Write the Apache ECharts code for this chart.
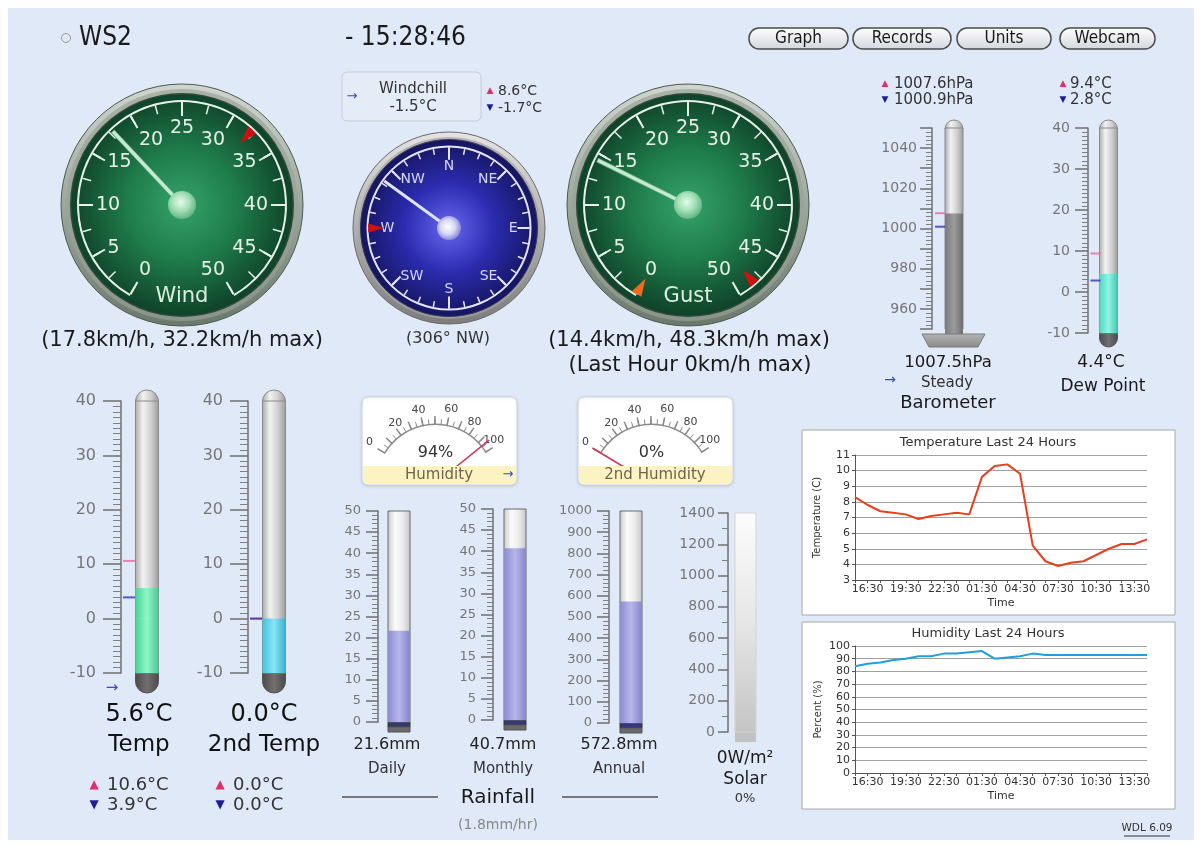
<!DOCTYPE html>
<html><head><meta charset="utf-8">
<script src="https://cdn.jsdelivr.net/npm/echarts@6/dist/echarts.min.js"></script>
<style>html,body{margin:0;padding:0;background:#fff;}#c{width:1202px;height:846px;}</style>
</head><body><div id="c"></div>
<script>
// ---------------- DATA ----------------
const stationName = ['WS2'];
const clockText = ['- 15:28:46'];
const buttonLabels = ['Graph', 'Records', 'Units', 'Webcam'];

const speedNames = ['Wind', 'Gust'];
const speedValues = [17.8, 14.4];
const speedMaxValues = [32.2, 48.3];
const gustLastHourMax = [0];
const windDirection = [306];
const windDirMarker = [270];
const compassLabels = ['N', 'NE', 'E', 'SE', 'S', 'SW', 'W', 'NW'];
const windchill = [-1.5, 8.6, -1.7];            // current, high, low

const humidityNames = ['Humidity', '2nd Humidity'];
const humidityValues = [94, 0];

const thermoNames = ['Temp', '2nd Temp', 'Dew Point'];
const thermoValues = [5.6, 0.0, 4.4];
const thermoHigh = [10.6, 0.0, 9.4];
const thermoLow = [3.9, 0.0, 2.8];

const baroValue = [1007.5];
const baroHigh = [1007.6];
const baroLow = [1000.9];

const rainNames = ['Daily', 'Monthly', 'Annual'];
const rainValues = [21.6, 40.7, 572.8];
const rainScaleMax = [50, 50, 1000];
const rainRate = [1.8];

const solarValue = [0];
const solarScaleMax = [1400];

const hourLabels = ['15:30','16:30','17:30','18:30','19:30','20:30','21:30','22:30','23:30','00:30','01:30','02:30',
                    '03:30','04:30','05:30','06:30','07:30','08:30','09:30','10:30','11:30','12:30','13:30','14:30'];
const temp24 = [8.3,7.8,7.4,7.3,7.2,6.9,7.1,7.2,7.3,7.2,9.6,10.3,10.4,9.8,5.2,4.2,3.9,4.1,4.2,4.6,5.0,5.3,5.3,5.6];
const hum24 = [84,86,87,89,90,92,92,94,94,95,96,90,91,92,94,93,93,93,93,93,93,93,93,93];

// ---------------- STYLE ----------------
const FF = "'DejaVu Sans', Verdana, sans-serif";
const FC = "'DejaVu Sans Condensed', 'Liberation Sans Narrow', 'DejaVu Sans', sans-serif";
const BG = '#dfe9f7';
const PINK = '#e0306a', NAVY = '#1c1c96', ARROW = '#3a46c8';

function lin(stops, vertical) {
  return {type: 'linear', x: 0, y: 0, x2: vertical ? 0 : 1, y2: vertical ? 1 : 0,
    colorStops: stops.map((c, i) => ({offset: i / (stops.length - 1), color: c}))};
}
function rad(stops, x, y, r) {
  return {type: 'radial', x: x, y: y, r: r,
    colorStops: stops.map((c, i) => ({offset: i / (stops.length - 1), color: c}))};
}

const graphics = [];
function T(x, y, text, size, color, align, extra) {
  graphics.push(Object.assign({type: 'text', x: x, y: y, z: 20,
    style: {text: String(text), fontSize: size, fontFamily: FF, fill: color || '#222',
      align: align || 'center', verticalAlign: 'middle'}}, extra || {}));
}
function fmt1(v) { return v.toFixed(1); }

// page panel
graphics.push({type: 'rect', z: -10, shape: {x: 8, y: 8, width: 1186, height: 832}, style: {fill: BG}});

// ---------- header ----------
graphics.push({type: 'circle', z: 5, shape: {cx: 66, cy: 38, r: 4.5}, style: {fill: 'none', stroke: '#9a9a9a', lineWidth: 1}});
graphics.push({type: 'text', x: 79, y: 38, z: 5, style: {text: stationName[0], fontSize: 26, fontFamily: FC, fill: '#1a1a1a', align: 'left', verticalAlign: 'middle'}});
graphics.push({type: 'text', x: 345, y: 38, z: 5, style: {text: clockText[0], fontSize: 26, fontFamily: FC, fill: '#1a1a1a', align: 'left', verticalAlign: 'middle'}});
const btnX = [749, 853, 957, 1060], btnW = [99, 98, 94, 95];
buttonLabels.forEach((b, i) => {
  graphics.push({type: 'rect', z: 5, shape: {x: btnX[i], y: 28, width: btnW[i], height: 21, r: 10},
    style: {fill: lin(['#ffffff', '#d2d7de'], true), stroke: '#4a4a4a', lineWidth: 1.5}});
  graphics.push({type: 'text', z: 6, x: btnX[i] + btnW[i] / 2, y: 38.5,
    style: {text: b, fontSize: 17, fontFamily: FC, fill: '#1a1a1a', align: 'center', verticalAlign: 'middle'}});
});

// ---------- gauge bezels ----------
const speedCenters = [[182, 205], [688, 205]];
speedCenters.forEach(c => {
  graphics.push({type: 'circle', z: 0, shape: {cx: c[0], cy: c[1], r: 121}, style: {fill: lin(['#d0d6cf', '#6b786c'], true), stroke: '#4c5a4e', lineWidth: 1}});
  graphics.push({type: 'circle', z: 0, shape: {cx: c[0], cy: c[1], r: 116}, style: {fill: lin(['#a9b2a8', '#8a958a'], true)}});
  graphics.push({type: 'circle', z: 0, shape: {cx: c[0], cy: c[1], r: 112}, style: {fill: '#2f4a36'}});
  graphics.push({type: 'circle', z: 0, shape: {cx: c[0], cy: c[1], r: 110.5}, style: {fill: rad(['#34a36b', '#1f7c4b', '#0f4329'], 0.5, 0.5, 0.5)}});
});
const compassCenter = [449, 228];
graphics.push({type: 'circle', z: 0, shape: {cx: 449, cy: 228, r: 96}, style: {fill: lin(['#e4e4e4', '#7c7c7c'], true), stroke: '#6a6a6a', lineWidth: 1}});
graphics.push({type: 'circle', z: 0, shape: {cx: 449, cy: 228, r: 91}, style: {fill: lin(['#b4b4b4', '#9a9a9a'], true)}});
graphics.push({type: 'circle', z: 0, shape: {cx: 449, cy: 228, r: 88.5}, style: {fill: rad(['#6868f0', '#2c2cb0', '#15155e'], 0.5, 0.5, 0.5), stroke: '#3a3a5a', lineWidth: 1}});

// humidity boxes
const humCenters = [[435.5, 483.5], [651.5, 483.5]];
const humBoxX = [362, 578];
humBoxX.forEach((x, i) => {
  graphics.push({type: 'rect', z: 0, shape: {x: x, y: 397, width: 155, height: 88, r: 6}, style: {fill: '#ffffff', stroke: '#cfd4da', lineWidth: 1, shadowBlur: 3, shadowColor: 'rgba(0,0,0,0.12)', shadowOffsetY: 1}});
  graphics.push({type: 'rect', z: 10, shape: {x: x + 1, y: 466, width: 153, height: 18, r: [0, 0, 5, 5]}, style: {fill: '#fbf4c2'}});
  T(x + 77, 475, humidityNames[i], 15, '#6e6548');
  T(humCenters[i][0], 453, humidityValues[i] + '%', 16, '#333');
});
T(508, 475, '\u2192', 13, ARROW);

// ---------- series containers ----------
const grids = [], xAxes = [], yAxes = [], series = [];

// speed gauges
function speedGauge(c, val) {
  return {type: 'gauge', center: c, radius: 105, startAngle: 240, endAngle: -60, min: 0, max: 50, splitNumber: 10, z: 3,
    axisLine: {show: true, lineStyle: {width: 2, color: [[1, '#e6f0e6']]}},
    splitLine: {show: true, length: 14, distance: 0, lineStyle: {color: '#e6f0e6', width: 2}},
    axisTick: {show: true, splitNumber: 2, length: 9, distance: 0, lineStyle: {color: '#e6f0e6', width: 1.5}},
    axisLabel: {show: true, distance: 5, color: '#e6f0e6', fontSize: 19, fontFamily: FF},
    pointer: {show: true, icon: 'rect', length: 101, width: 4, itemStyle: {color: '#c2ecd0', borderColor: '#6f9f80', borderWidth: 0.6}},
    anchor: {show: true, showAbove: true, size: 28, itemStyle: {color: rad(['#e4fbea', '#a6e2ba', '#62b483'], 0.45, 0.4, 0.6)}},
    progress: {show: false}, title: {show: false}, detail: {show: false},
    data: [{value: val}]};
}
function markerGauge(c, r, start, end, min, max, val, color, offPct, lenPct, w) {
  return {type: 'gauge', center: c, radius: r, startAngle: start, endAngle: end, min: min, max: max, z: 4,
    axisLine: {show: false}, splitLine: {show: false}, axisTick: {show: false}, axisLabel: {show: false},
    pointer: {show: true, icon: 'path://M0,0 L10,0 L5,12 Z', offsetCenter: [0, '-' + offPct + '%'], length: lenPct + '%', width: w, keepAspect: false, itemStyle: {color: color}},
    anchor: {show: false}, progress: {show: false}, title: {show: false}, detail: {show: false},
    data: [{value: val}]};
}
speedCenters.forEach((c, i) => {
  series.push(speedGauge(c, speedValues[i]));
  series.push(markerGauge(c, 105, 240, -60, 0, 50, speedMaxValues[i], '#d01010', 81, 17, 11));
  T(c[0], 297, speedNames[i], 21, '#dcefdc');
});
series.push(markerGauge(speedCenters[1], 105, 240, -60, 0, 50, gustLastHourMax[0], '#f06a1c', 81, 17, 11));

// compass
series.push({type: 'gauge', center: compassCenter, radius: 82.5, startAngle: 90, endAngle: -270, min: 0, max: 360, splitNumber: 8, z: 3,
  axisLine: {show: true, lineStyle: {width: 2, color: [[1, '#e4e4fa']]}},
  splitLine: {show: true, length: 12, distance: 0, lineStyle: {color: '#e4e4fa', width: 2}},
  axisTick: {show: true, splitNumber: 4, length: 6, distance: 0, lineStyle: {color: '#e4e4fa', width: 1.5}},
  axisLabel: {show: true, distance: 2, color: '#d6d6f6', fontSize: 14, fontFamily: FF,
    formatter: v => v >= 360 ? '' : compassLabels[Math.round(v / 45) % 8]},
  pointer: {show: true, icon: 'rect', length: 80, width: 3, itemStyle: {color: '#dde4f6'}},
  anchor: {show: true, showAbove: true, size: 24, itemStyle: {color: rad(['#ffffff', '#d8d8f8', '#7a7ad8'], 0.45, 0.45, 0.6)}},
  progress: {show: false}, title: {show: false}, detail: {show: false},
  data: [{value: windDirection[0]}]});
series.push(markerGauge(compassCenter, 82.5, 90, -270, 0, 360, windDirMarker[0], '#d01010', 78, 20, 9));

// humidity dials
humCenters.forEach((c, i) => {
  series.push({type: 'gauge', center: c, radius: 60, startAngle: 149, endAngle: 32, min: 0, max: 100, splitNumber: 10, z: 3,
    axisLine: {show: true, lineStyle: {width: 1.5, color: [[1, '#8c8c8c']]}},
    splitLine: {show: true, length: 9, distance: -9, lineStyle: {color: '#8c8c8c', width: 1.5}},
    axisTick: {show: true, splitNumber: 2, length: 5, distance: -6, lineStyle: {color: '#8c8c8c', width: 1}},
    axisLabel: {show: true, distance: -21, color: '#444', fontSize: 11, fontFamily: FF, formatter: v => (v % 20 === 0 ? String(v) : '')},
    pointer: {show: true, icon: 'rect', length: 69, width: 1.6, itemStyle: {color: '#c83a5a'}},
    anchor: {show: false}, progress: {show: false}, title: {show: false}, detail: {show: false},
    data: [{value: humidityValues[i]}]});
});

// ---------- tube gauges ----------
const TUBE = lin(['#a8a8a8', '#f2f2f2', '#d0d0d0', '#9a9a9a']);
const RTUBE = lin(['#c8c8c8', '#fbfbfb', '#ececec', '#c4c4c4']);
function tube(o) {
  const gi = grids.length;
  grids.push({left: o.left, top: o.top, width: o.width, height: o.height, containLabel: false, outerBoundsMode: 'none'});
  xAxes.push({gridIndex: gi, type: 'category', data: [o.name], show: false});
  yAxes.push({gridIndex: gi, type: 'value', min: o.min, max: o.max, interval: o.interval, position: 'left',
    axisLine: {show: true, lineStyle: {color: '#707070', width: 1.5}},
    axisTick: {show: true, length: o.major, lineStyle: {color: '#707070', width: 1.5}},
    minorTick: {show: true, splitNumber: o.minor, length: o.minorLen, lineStyle: {color: '#808080', width: 1}},
    splitLine: {show: false}, minorSplitLine: {show: false},
    axisLabel: {color: '#767676', fontSize: o.fontSize, fontFamily: FF, margin: o.margin, formatter: o.fmt || (v => String(v))}});
  series.push({type: 'bar', xAxisIndex: gi, yAxisIndex: gi, data: [o.value], barWidth: o.tubeW, barGap: '-100%', z: 3,
    showBackground: true, backgroundStyle: {color: o.bg, borderColor: o.border || '#8a8a8a', borderWidth: 1},
    itemStyle: {color: o.fill}, silent: true});
  if (o.base !== undefined) {
    series.push({type: 'bar', xAxisIndex: gi, yAxisIndex: gi, data: [o.base], barWidth: o.tubeW, barGap: '-100%', z: 4,
      itemStyle: {color: o.fill}, silent: true});
  }
  if (o.hi !== undefined) {
    series.push({type: 'scatter', xAxisIndex: gi, yAxisIndex: gi, symbol: 'rect', symbolSize: [o.markW, 2], symbolOffset: [o.markOff, 0],
      data: [[0, o.hi]], itemStyle: {color: '#e86a9a'}, z: 5, silent: true});
    series.push({type: 'scatter', xAxisIndex: gi, yAxisIndex: gi, symbol: 'rect', symbolSize: [o.markW, 2], symbolOffset: [o.markOff, 0],
      data: [[0, o.lo]], itemStyle: {color: '#3232b4'}, z: 6, silent: true});
  }
  const bx = o.left + o.width / 2 - o.tubeW / 2;
  return {x: bx, w: o.tubeW, top: o.top, bottom: o.top + o.height};
}
function cap(t, h, color) {
  graphics.push({type: 'rect', z: 1, shape: {x: t.x, y: t.top - h, width: t.w, height: h + 1, r: [t.w / 2, t.w / 2, 0, 0]},
    style: {fill: color || TUBE, stroke: '#8a8a8a', lineWidth: 1}});
}
function bulb(t, h) {
  graphics.push({type: 'rect', z: 1, shape: {x: t.x, y: t.bottom, width: t.w, height: h, r: [0, 0, t.w / 2, t.w / 2]},
    style: {fill: lin(['#4a4a4a', '#707070', '#4a4a4a']), stroke: '#555', lineWidth: 1}});
}

// Temperatures
const thermoFill = [lin(['#48d496', '#8ef7c8', '#4cc892']), lin(['#44c2e0', '#8ae4f6', '#3cb0d0']), lin(['#4ed8c2', '#92f4e4', '#44c8b2'])];
const thermoGeom = [
  {left: 121, top: 401, width: 52, height: 272, tubeW: 23, fontSize: 16, margin: 25, major: 18, minorLen: 8, markW: 12, markOff: -18, capH: 11, bulbH: 20},
  {left: 248, top: 401, width: 52, height: 272, tubeW: 23, fontSize: 16, margin: 25, major: 18, minorLen: 8, markW: 12, markOff: -18, capH: 11, bulbH: 20},
  {left: 1088, top: 128, width: 41, height: 205, tubeW: 18, fontSize: 14, margin: 18, major: 13, minorLen: 6, markW: 10, markOff: -13, capH: 8, bulbH: 14}
];
thermoNames.forEach((n, i) => {
  const g = thermoGeom[i];
  const t = tube(Object.assign({name: n, min: -10, max: 40, interval: 10, minor: 10, value: thermoValues[i], base: -10,
    bg: TUBE, fill: thermoFill[i], hi: thermoHigh[i], lo: thermoLow[i]}, g));
  cap(t, g.capH);
  bulb(t, g.bulbH);
});

// Barometer
const baroT = tube({name: 'Barometer', left: 932, top: 128, width: 44, height: 201, min: 950, max: 1050, interval: 10, minor: 5,
  value: baroValue[0], bg: TUBE, fill: lin(['#7a7a7a', '#9c9c9c', '#6c6c6c']), tubeW: 18, fontSize: 14, margin: 15, major: 12, minorLen: 6,
  fmt: v => (v % 20 === 0 ? String(v) : ''), hi: baroHigh[0], lo: baroLow[0], markW: 10, markOff: -14});
cap(baroT, 8);
graphics.push({type: 'rect', z: 1, shape: {x: baroT.x, y: baroT.bottom - 1, width: baroT.w, height: 6}, style: {fill: lin(['#7a7a7a', '#9c9c9c', '#6c6c6c'])}});
graphics.push({type: 'polygon', z: 2, shape: {points: [[922, 334], [985, 334], [978, 347], [929, 347]]}, style: {fill: lin(['#b4b4b4', '#8a8a8a'], true), stroke: '#7a7a7a', lineWidth: 1}});

// Rain
const rainGeom = [
  {left: 378, top: 511, width: 42, height: 211, minor: 5, interval: 5},
  {left: 493, top: 509, width: 44, height: 211, minor: 5, interval: 5},
  {left: 609, top: 511, width: 44, height: 212, minor: 5, interval: 100}
];
rainNames.forEach((n, i) => {
  const g = rainGeom[i];
  const t = tube(Object.assign({name: n, min: 0, max: rainScaleMax[i], value: rainValues[i], bg: RTUBE, border: '#6a6a6a',
    fill: lin(['#8c8cd0', '#b6b6ec', '#8686cc']), tubeW: 22, fontSize: 13, margin: 17, major: 12, minorLen: 6}, g));
  graphics.push({type: 'rect', z: 2, shape: {x: t.x, y: t.bottom, width: t.w, height: 5}, style: {fill: '#36367a', stroke: '#333', lineWidth: 1}});
  graphics.push({type: 'rect', z: 2, shape: {x: t.x, y: t.bottom + 5, width: t.w, height: 5}, style: {fill: '#6a6a6a', stroke: '#555', lineWidth: 1}});
  T(t.x + t.w / 2 - 12, 745, fmt1(rainValues[i]) + 'mm', 16, '#222');
  T(t.x + t.w / 2 - 12, 769, n, 15, '#333');
});

// Solar
const solT = tube({name: 'Solar', left: 728, top: 513, width: 35, height: 219, min: 0, max: solarScaleMax[0], interval: 200, minor: 2,
  value: solarValue[0], bg: lin(['#fcfcfc', '#e6e6e6', '#c4c4c4'], true), border: '#d4d4d4', fill: '#c4c4c4',
  tubeW: 21, fontSize: 14, margin: 13, major: 10, minorLen: 6});
graphics.push({type: 'rect', z: 1, shape: {x: solT.x, y: solT.bottom, width: solT.w, height: 10}, style: {fill: '#c2c2c2'}});

// ---------- line charts ----------
const chartBoxes = [[802, 430, 373, 185], [802, 622, 373, 187]];
chartBoxes.forEach(b => graphics.push({type: 'rect', z: 0, shape: {x: b[0], y: b[1], width: b[2], height: b[3]}, style: {fill: '#ffffff', stroke: '#a8a8a8', lineWidth: 1}}));
T(988, 443, 'Temperature Last 24 Hours', 13, '#333');
T(988, 634, 'Humidity Last 24 Hours', 13, '#333');

function lineChart(top, height, min, max, interval, data, color, yName, nameGap) {
  const gi = grids.length;
  grids.push({left: 855, top: top, width: 292, height: height, containLabel: false, outerBoundsMode: 'none'});
  xAxes.push({gridIndex: gi, type: 'category', data: hourLabels, boundaryGap: false,
    name: 'Time', nameLocation: 'middle', nameGap: 18, nameTextStyle: {fontSize: 11, color: '#333', fontFamily: FF},
    axisLine: {lineStyle: {color: '#555'}},
    axisTick: {show: true, interval: 0, length: 3, lineStyle: {color: '#555'}},
    axisLabel: {interval: i => i % 3 === 1, fontSize: 11, color: '#333', fontFamily: FF, margin: 4},
    splitLine: {show: false}});
  yAxes.push({gridIndex: gi, type: 'value', min: min, max: max, interval: interval,
    name: yName, nameLocation: 'middle', nameGap: nameGap, nameRotate: 90, nameTextStyle: {fontSize: 10, color: '#333', fontFamily: FF},
    axisLine: {show: true, lineStyle: {color: '#555'}},
    axisTick: {show: true, length: 3, lineStyle: {color: '#555'}},
    axisLabel: {fontSize: 11, color: '#333', fontFamily: FF, margin: 5},
    splitLine: {show: true, lineStyle: {color: '#a0a0a0', width: 1}}});
  series.push({type: 'line', xAxisIndex: gi, yAxisIndex: gi, data: data, symbol: 'none', z: 5,
    lineStyle: {color: color, width: 2}, itemStyle: {color: color}});
}
lineChart(455, 125, 3, 11, 1, temp24, '#e8401c', 'Temperature (C)', 33);
lineChart(646, 127, 0, 100, 10, hum24, '#1d9fe0', 'Percent (%)', 32);

// ---------- texts ----------
T(182, 341, '(' + fmt1(speedValues[0]) + 'km/h, ' + fmt1(speedMaxValues[0]) + 'km/h max)', 21, '#1a1a1a');
T(689, 341, '(' + fmt1(speedValues[1]) + 'km/h, ' + fmt1(speedMaxValues[1]) + 'km/h max)', 21, '#1a1a1a');
T(690, 366, '(Last Hour ' + gustLastHourMax[0] + 'km/h max)', 21, '#1a1a1a');
T(448, 339, '(' + windDirection[0] + '\u00b0 ' + compassLabels[Math.round(windDirection[0] / 45) % 8] + ')', 16, '#333');

// windchill box
graphics.push({type: 'rect', z: 1, shape: {x: 342, y: 72, width: 139, height: 49, r: 5}, style: {fill: '#e4ecf8', stroke: '#c4ccd8', lineWidth: 1}});
T(413, 89, 'Windchill', 15, '#333');
T(413, 107, fmt1(windchill[0]) + '\u00b0C', 15, '#333');
T(352, 97, '\u2192', 13, ARROW);
T(490, 91, '\u25b2', 9, PINK);
T(498, 91, fmt1(windchill[1]) + '\u00b0C', 14, '#333', 'left');
T(490, 108, '\u25bc', 9, NAVY);
T(498, 108, fmt1(windchill[2]) + '\u00b0C', 14, '#333', 'left');

// barometer texts
T(885, 84, '\u25b2', 9, PINK);
T(894, 84, fmt1(baroHigh[0]) + 'hPa', 15, '#333', 'left');
T(885, 100, '\u25bc', 9, NAVY);
T(894, 100, fmt1(baroLow[0]) + 'hPa', 15, '#333', 'left');
T(948, 363, fmt1(baroValue[0]) + 'hPa', 16.5, '#1a1a1a');
T(890, 380, '\u2192', 14, ARROW);
T(947, 383, 'Steady', 15, '#333');
T(948, 403, 'Barometer', 18, '#1a1a1a');

// dew point texts
T(1063, 84, '\u25b2', 9, PINK);
T(1070, 84, fmt1(thermoHigh[2]) + '\u00b0C', 15, '#333', 'left');
T(1063, 100, '\u25bc', 9, NAVY);
T(1070, 100, fmt1(thermoLow[2]) + '\u00b0C', 15, '#333', 'left');
T(1101, 363, fmt1(thermoValues[2]) + '\u00b0C', 17, '#1a1a1a');
T(1103, 387, thermoNames[2], 17, '#1a1a1a');

// temperature texts
const tempTextX = [139, 264], tempHiX = [94, 220];
[0, 1].forEach(i => {
  T(tempTextX[i], 715, fmt1(thermoValues[i]) + '\u00b0C', 24, '#111');
  T(tempTextX[i], 745, thermoNames[i], 23, '#111');
  T(tempHiX[i], 785, '\u25b2', 12, PINK);
  T(tempHiX[i] + 13, 785, fmt1(thermoHigh[i]) + '\u00b0C', 18, '#333', 'left');
  T(tempHiX[i], 805, '\u25bc', 12, NAVY);
  T(tempHiX[i] + 13, 805, fmt1(thermoLow[i]) + '\u00b0C', 18, '#333', 'left');
});
T(112, 688, '\u2192', 15, ARROW);

// rainfall texts
graphics.push({type: 'line', z: 2, shape: {x1: 342, y1: 797, x2: 438, y2: 797}, style: {stroke: '#777', lineWidth: 2}});
graphics.push({type: 'line', z: 2, shape: {x1: 562, y1: 797, x2: 658, y2: 797}, style: {stroke: '#777', lineWidth: 2}});
T(498, 798, 'Rainfall', 20, '#1a1a1a');
T(498, 825, '(' + fmt1(rainRate[0]) + 'mm/hr)', 14, '#888');

// solar texts
T(745, 759, solarValue[0] + 'W/m\u00b2', 17, '#1a1a1a');
T(745, 780, 'Solar', 17, '#1a1a1a');
T(745, 799, '0%', 13, '#333');

// footer
T(1147, 828, 'WDL 6.09', 10.5, '#333');
graphics.push({type: 'line', z: 2, shape: {x1: 1124, y1: 836, x2: 1170, y2: 836}, style: {stroke: '#333', lineWidth: 1}});

// ---------------- CHART ----------------
const chart = echarts.init(document.getElementById('c'), null, {renderer: 'canvas', width: 1202, height: 846});
chart.setOption({
  animation: false,
  backgroundColor: '#ffffff',
  grid: grids, xAxis: xAxes, yAxis: yAxes, series: series,
  graphic: {elements: graphics}
});
</script></body></html>
